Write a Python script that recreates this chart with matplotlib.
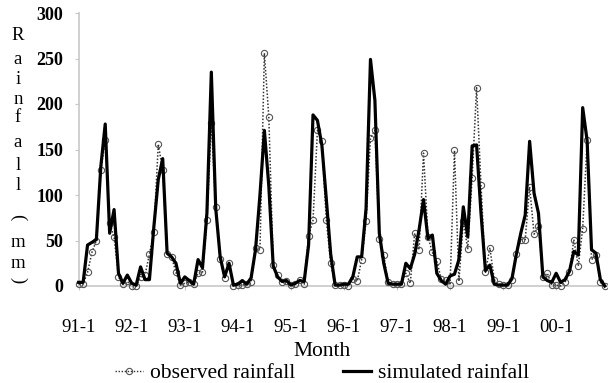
import numpy as np
import matplotlib
matplotlib.use("Agg")
import matplotlib.pyplot as plt
from matplotlib.lines import Line2D

plt.rcParams['font.family'] = ['Liberation Serif', 'DejaVu Serif']

# ---------------------------
# data (monthly, 1991-1 .. 2000-12)
# ---------------------------
observed = [
    2, 2, 15, 37, 50, 128, 160, 69, 54, 10, 2, 5,          # 1991
    0, 0, 10, 12, 35, 59, 156, 127, 35, 32, 15, 1,          # 1992
    3, 4, 2, 14, 15, 72, 179, 87, 30, 9, 25, 0,             # 1993
    1, 1, 2, 4, 42, 40, 256, 186, 23, 12, 4, 5,             # 1994
    1, 2, 7, 2, 55, 72, 171, 159, 73, 25, 1, 1,             # 1995
    1, 0, 8, 5, 29, 71, 163, 171, 52, 34, 4, 2,             # 1996
    2, 2, 14, 3, 58, 40, 146, 54, 37, 27, 8, 7,             # 1997
    1, 149, 5, 71, 41, 119, 218, 111, 15, 42, 7, 2,         # 1998
    1, 1, 7, 35, 51, 51, 109, 57, 66, 10, 14, 1,            # 1999
    1, 0, 4, 15, 51, 22, 63, 160, 29, 34, 4, 0,             # 2000
]
simulated = [
    4, 4, 45, 48, 51, 131, 178, 58, 84, 14, 3, 12,          # 1991
    3, 1, 21, 7, 7, 65, 117, 140, 36, 32, 25, 3,            # 1992
    10, 6, 2, 29, 20, 80, 235, 85, 32, 10, 25, 1,           # 1993
    2, 6, 2, 9, 40, 100, 171, 110, 22, 10, 5, 6,            # 1994
    1, 3, 6, 5, 45, 188, 182, 155, 96, 35, 1, 1,            # 1995
    2, 2, 10, 32, 32, 85, 249, 204, 58, 25, 3, 2,           # 1996
    2, 2, 25, 19, 35, 62, 95, 52, 56, 14, 6, 2,             # 1997
    11, 13, 29, 87, 54, 154, 155, 80, 17, 23, 2, 1,         # 1998
    1, 1, 8, 35, 58, 78, 159, 102, 80, 10, 6, 4,            # 1999
    14, 4, 7, 16, 38, 34, 196, 160, 40, 36, 7, 0,           # 2000
]
tick_labels = ["91-1", "92-1", "93-1", "94-1", "95-1",
               "96-1", "97-1", "98-1", "99-1", "00-1"]
ylabel_chars = ["R", "a", "i", "n", "f", "a", "l", "l", "(", "m", "m", ")"]

months = np.arange(len(observed))

# ---------------------------
# figure
# ---------------------------
W, H = 608, 383
fig = plt.figure(figsize=(W / 100, H / 100), dpi=100)
ax = fig.add_axes([78.7 / W, 97 / H, (607 - 78.7) / W, 273 / H])

ax.plot(months, observed, linestyle=(0, (1, 1.2)), color="#333333", lw=1.1,
        marker="o", markersize=4.5, markerfacecolor="none",
        markeredgecolor="#555555", markeredgewidth=0.8, clip_on=False, zorder=3)
ax.plot(months, simulated, color="black", lw=2.3, clip_on=False, zorder=4)

ax.set_xlim(0, 119.5)
ax.set_ylim(0, 300)
ax.set_yticks(range(0, 301, 50))
ax.set_xticks(np.arange(0, 120, 12))
ax.set_xticklabels(tick_labels, fontsize=13.5)

for lab in ax.get_yticklabels():
    lab.set_fontweight("bold")
    lab.set_fontsize(13)

for s in ["top", "right"]:
    ax.spines[s].set_visible(False)
for s in ["left", "bottom"]:
    ax.spines[s].set_color("#c8c8c8")
    ax.spines[s].set_linewidth(1.2)

ax.tick_params(axis="y", direction="out", length=3, color="#c8c8c8", pad=8)
ax.tick_params(axis="x", direction="out", length=3, color="#c8c8c8", pad=21)

# stacked y label
ys = [35, 60, 80, 100, 118, 142, 165, 185, 217, 242, 263, 280]
for ch, yy in zip(ylabel_chars, ys):
    rot = -90 if ch in "()" else 0
    fig.text(18 / W, 1 - yy / H, ch, ha="center", va="center",
             fontsize=13.5, rotation=rot)

fig.text(322 / W, 1 - 352 / H, "Month", ha="center", va="center", fontsize=15.5)

handles = [
    Line2D([], [], linestyle=(0, (1, 1.2)), color="#333333", lw=1.0,
           marker="o", markersize=4.5, markerfacecolor="none",
           markeredgecolor="#555555", markeredgewidth=0.8),
    Line2D([], [], color="black", lw=2.3),
]
fig.legend(handles, ["observed rainfall", "simulated rainfall"],
           loc="center", bbox_to_anchor=(322 / W, 1 - 373 / H), ncol=2,
           frameon=False, fontsize=15.5, handlelength=1.3,
           handletextpad=0.35, columnspacing=2.2, borderpad=0)

fig.savefig("out.png", dpi=100)
